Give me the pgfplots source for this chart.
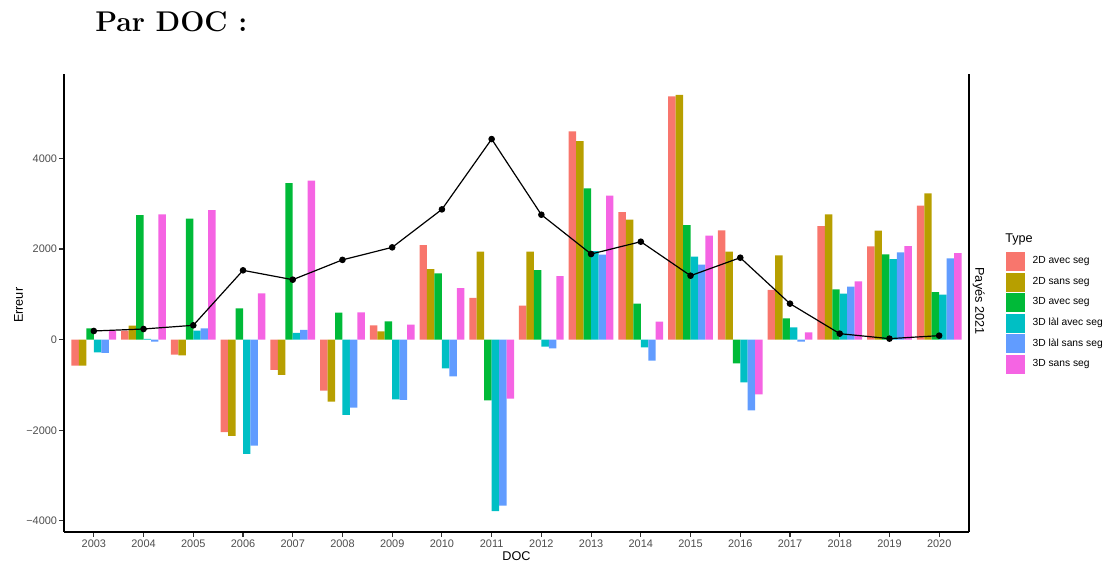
\documentclass[border=0pt]{standalone}
\usepackage{fontspec}
\usepackage{pgfplots}
\pgfplotsset{compat=1.18}
\newfontfamily\arial{Liberation Sans}
\definecolor{c1}{HTML}{F8766D}
\definecolor{c2}{HTML}{B79F00}
\definecolor{c3}{HTML}{00BA38}
\definecolor{c4}{HTML}{00BFC4}
\definecolor{c5}{HTML}{619CFF}
\definecolor{c6}{HTML}{F564E3}
\definecolor{tickgray}{HTML}{4D4D4D}
\pgfplotsset{sq/.style={legend image code/.code={\filldraw[fill=#1, draw=white, line width=0.4pt] (0pt,-7.5pt) rectangle (15pt,7.5pt);}}}
\begin{document}
\begin{tikzpicture}
\useasboundingbox (-48pt,-21.75pt) rectangle (780.75pt,399pt);
\begin{axis}[
  at={(0,0)}, anchor=south west,
  scale only axis, width=678.75pt, height=343.5pt,
  xmin=-0.6, xmax=17.6, ymin=-4244, ymax=5861,
  axis x line*=bottom, axis y line*=left,
  axis line style={line width=0.9pt, black, -},
  xtick={0,1,2,3,4,5,6,7,8,9,10,11,12,13,14,15,16,17},
  xticklabels={2003,2004,2005,2006,2007,2008,2009,2010,2011,2012,2013,2014,2015,2016,2017,2018,2019,2020},
  ytick={-4000,-2000,0,2000,4000},
  yticklabels={−4000,−2000,0,2000,4000},
  tick align=outside, major tick length=3.5pt,
  tick style={line width=0.8pt, color=black!80},
  ticklabel style={font=\arial\fontsize{8.2}{9.5}\selectfont, text=tickgray},
  xticklabel style={yshift=1.5pt},
  yticklabel style={xshift=1.8pt},
  clip=false,
  legend style={at={(1.0398,0.6135)}, anchor=north west, draw=none, fill=none,
    inner sep=0pt, outer sep=0pt, row sep=0pt, column sep=5.25pt,
    font=\arial\fontsize{7.7}{9}\selectfont, nodes={inner sep=0pt}},
  legend cell align=left,
]
\addplot[ybar, bar width=0.15, bar shift=-0.375, fill=c1, draw=none, sq=c1] coordinates {
(0,-573) (1,200) (2,-331) (3,-2043) (4,-669) (5,-1125) (6,316) (7,2087) (8,919) (9,750) (10,4594) (11,2815) (12,5366) (13,2411) (14,1100) (15,2506) (16,2058) (17,2955)};
\addlegendentry{2D avec seg}
\addplot[ybar, bar width=0.15, bar shift=-0.225, fill=c2, draw=none, sq=c2] coordinates {
(0,-573) (1,309) (2,-345) (3,-2124) (4,-779) (5,-1367) (6,184) (7,1558) (8,1940) (9,1940) (10,4381) (11,2646) (12,5402) (13,1940) (14,1860) (15,2764) (16,2403) (17,3227)};
\addlegendentry{2D sans seg}
\addplot[ybar, bar width=0.15, bar shift=-0.075, fill=c3, draw=none, sq=c3] coordinates {
(0,250) (1,2749) (2,2668) (3,691) (4,3455) (5,595) (6,404) (7,1463) (8,-1338) (9,1536) (10,3337) (11,794) (12,2528) (13,-522) (14,470) (15,1110) (16,1882) (17,1051)};
\addlegendentry{3D avec seg}
\addplot[ybar, bar width=0.15, bar shift=0.075, fill=c4, draw=none, sq=c4] coordinates {
(0,-280) (1,15) (2,198) (3,-2520) (4,147) (5,-1661) (6,-1316) (7,-632) (8,-3785) (9,-154) (10,1955) (11,-169) (12,1830) (13,-941) (14,272) (15,1014) (16,1779) (17,992)};
\addlegendentry{3D làl avec seg}
\addplot[ybar, bar width=0.15, bar shift=0.225, fill=c5, draw=none, sq=c5] coordinates {
(0,-294) (1,-44) (2,250) (3,-2337) (4,213) (5,-1499) (6,-1330) (7,-808) (8,-3660) (9,-191) (10,1874) (11,-463) (12,1654) (13,-1558) (14,-44) (15,1169) (16,1926) (17,1793)};
\addlegendentry{3D làl sans seg}
\addplot[ybar, bar width=0.15, bar shift=0.375, fill=c6, draw=none, sq=c6] coordinates {
(0,198) (1,2764) (2,2859) (3,1022) (4,3506) (5,603) (6,331) (7,1139) (8,-1301) (9,1404) (10,3175) (11,397) (12,2293) (13,-1205) (14,162) (15,1286) (16,2065) (17,1911)};
\addlegendentry{3D sans seg}
\addplot[black, line width=0.9pt, mark=*, mark size=2pt, mark options={solid, fill=black}, forget plot] coordinates {
(0,191) (1,235) (2,316) (3,1529) (4,1323) (5,1760) (6,2036) (7,2874) (8,4425) (9,2756) (10,1889) (11,2161) (12,1411) (13,1808) (14,794) (15,132) (16,22) (17,88)};
\draw[line width=0.9pt, black] (rel axis cs:1,0) -- (rel axis cs:1,1);
\end{axis}
\node[anchor=base west, inner sep=0pt] at (23.25pt,375pt) {\fontsize{21.4}{25}\selectfont\bfseries Par DOC :};
\node[rotate=90, inner sep=0pt, font=\arial\fontsize{9.5}{11}\selectfont] at (-34pt,170pt) {Erreur};
\node[inner sep=0pt, font=\arial\fontsize{9.5}{11}\selectfont] at (339.4pt,-18pt) {DOC};
\node[rotate=-90, inner sep=0pt, font=\arial\fontsize{9.5}{11}\selectfont] at (686pt,173.25pt) {Payés 2021};
\node[anchor=base west, inner sep=0pt, font=\arial\fontsize{9.5}{11}\selectfont] at (705.75pt,216.75pt) {Type};
\end{tikzpicture}
\end{document}
